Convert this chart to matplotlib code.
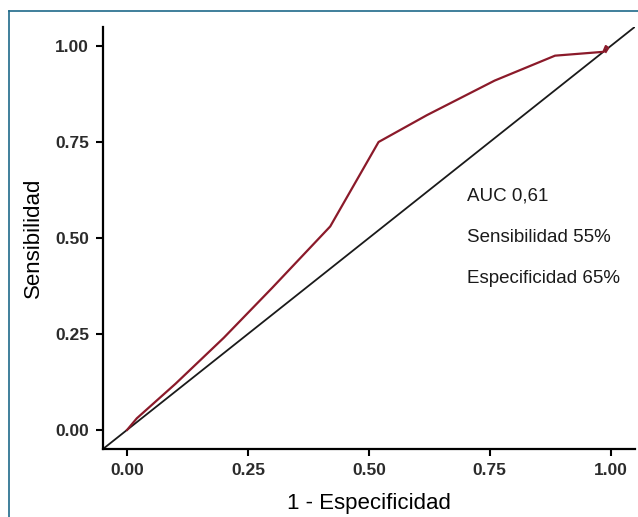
import numpy as np
import matplotlib.pyplot as plt
from matplotlib.lines import Line2D

plt.rcParams['font.family'] = ['Liberation Sans', 'DejaVu Sans']

# ROC curve
fpr = [0.0, 0.02, 0.10, 0.20, 0.30, 0.42, 0.52, 0.62, 0.76, 0.885, 0.985, 0.99, 0.995, 0.99]
tpr = [0.0, 0.03, 0.12, 0.24, 0.37, 0.53, 0.75, 0.82, 0.91, 0.975, 0.985, 1.0, 0.995, 0.985]
ticks = [0.0, 0.25, 0.50, 0.75, 1.00]
tick_labels = ['0.00', '0.25', '0.50', '0.75', '1.00']
notes = ['AUC 0,61', 'Sensibilidad 55%', 'Especificidad 65%']

fig = plt.figure(figsize=(6.38, 5.17), dpi=100)
ax = fig.add_axes([0.1614, 0.1315, 0.8336, 0.8165])

ax.axline((0, 0), (1, 1), color='#1a1a1a', lw=1.3)
ax.plot(fpr, tpr, color='#8b1a2a', lw=1.6)

ax.set_xlim(-0.05, 1.05)
ax.set_ylim(-0.05, 1.05)
ax.set_xticks(ticks)
ax.set_xticklabels(tick_labels)
ax.set_yticks(ticks)
ax.set_yticklabels(tick_labels)
for lab in ax.get_xticklabels() + ax.get_yticklabels():
    lab.set_fontweight('bold')
    lab.set_color('#2b2b2b')
ax.tick_params(direction='out', length=5, width=1.5, labelsize=12.5, pad=5)

for s in ['top', 'right']:
    ax.spines[s].set_visible(False)
for s in ['left', 'bottom']:
    ax.spines[s].set_linewidth(1.6)

ax.set_xlabel('1 - Especificidad', fontsize=16, labelpad=11)
ax.set_ylabel('Sensibilidad', fontsize=16, labelpad=8)

for i, t in enumerate(notes):
    ax.text(0.703, 0.609 - i * 0.107, t, fontsize=13.5, color='#1a1a1a', va='center')

# outer frame (left and top edges only visible)
fig.add_artist(Line2D([9 / 638, 9 / 638], [0, 1 - 11 / 517], color='#1f6a8a', lw=1.2))
fig.add_artist(Line2D([9 / 638, 1], [1 - 11 / 517, 1 - 11 / 517], color='#1f6a8a', lw=1.2))

fig.savefig('out.png', dpi=100)
